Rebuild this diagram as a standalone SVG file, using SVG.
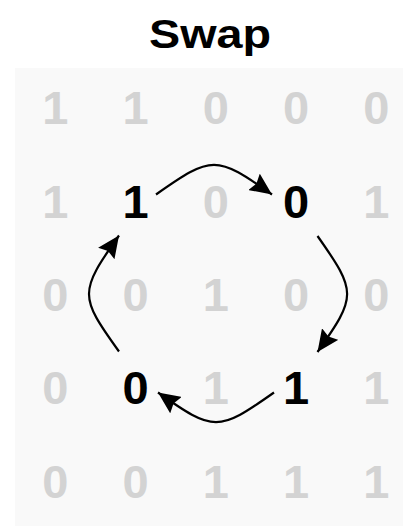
<svg xmlns="http://www.w3.org/2000/svg" width="403" height="526" viewBox="0 0 403 526">
  <style>
    .title { font-family: "Liberation Sans", Arial, sans-serif; font-weight: bold; font-size: 40px; fill: #000; text-anchor: middle; }
    .d { font-family: "Liberation Sans", Arial, sans-serif; font-weight: bold; font-size: 47px; text-anchor: middle; }
    .g { fill: #d3d3d3; }
    .k { fill: #000; }
    .arrow { fill: none; stroke: #000; stroke-width: 2.2; marker-end: url(#head); }
  </style>
  <defs>
    <marker id="head" markerUnits="userSpaceOnUse" markerWidth="24" markerHeight="20" refX="22" refY="10" orient="auto">
      <path d="M0,0 L22,10 L0,20 L3,10 Z" fill="#000"/>
    </marker>
  </defs>
  <rect id="panel" x="15" y="68" width="388" height="458" fill="#f9f9f9"/>
  <text id="title" class="title" x="210" y="48" textLength="122" lengthAdjust="spacingAndGlyphs">Swap</text>

  <g id="row1">
    <text class="d g" x="55.4" y="124.3">1</text>
    <text class="d g" x="135.6" y="124.3">1</text>
    <text class="d g" x="215.8" y="124.3">0</text>
    <text class="d g" x="296" y="124.3">0</text>
    <text class="d g" x="376.2" y="124.3">0</text>
  </g>
  <g id="row2">
    <text class="d g" x="55.4" y="217.6">1</text>
    <g id="node-a"><text class="d k" x="135.6" y="217.6">1</text></g>
    <text class="d g" x="215.8" y="217.6">0</text>
    <g id="node-b"><text class="d k" x="296" y="217.6">0</text></g>
    <text class="d g" x="376.2" y="217.6">1</text>
  </g>
  <g id="row3">
    <text class="d g" x="55.4" y="311">0</text>
    <text class="d g" x="135.6" y="311">0</text>
    <text class="d g" x="215.8" y="311">1</text>
    <text class="d g" x="296" y="311">0</text>
    <text class="d g" x="376.2" y="311">0</text>
  </g>
  <g id="row4">
    <text class="d g" x="55.4" y="404.3">0</text>
    <g id="node-d"><text class="d k" x="135.6" y="404.3">0</text></g>
    <text class="d g" x="215.8" y="404.3">1</text>
    <g id="node-c"><text class="d k" x="296" y="404.3">1</text></g>
    <text class="d g" x="376.2" y="404.3">1</text>
  </g>
  <g id="row5">
    <text class="d g" x="55.4" y="497.6">0</text>
    <text class="d g" x="135.6" y="497.6">0</text>
    <text class="d g" x="215.8" y="497.6">1</text>
    <text class="d g" x="296" y="497.6">1</text>
    <text class="d g" x="376.2" y="497.6">1</text>
  </g>

  <g id="connectors">
    <path class="arrow" d="M156,194.5 C212,155 216,155 272,194.5"/>
    <path class="arrow" d="M317.5,236 C357,292 357,296 317.5,352"/>
    <path class="arrow" d="M274,392.5 C218,432 214,432 158,392.5"/>
    <path class="arrow" d="M119,351.5 C79,296 79,292 119,235.5"/>
  </g>
</svg>
